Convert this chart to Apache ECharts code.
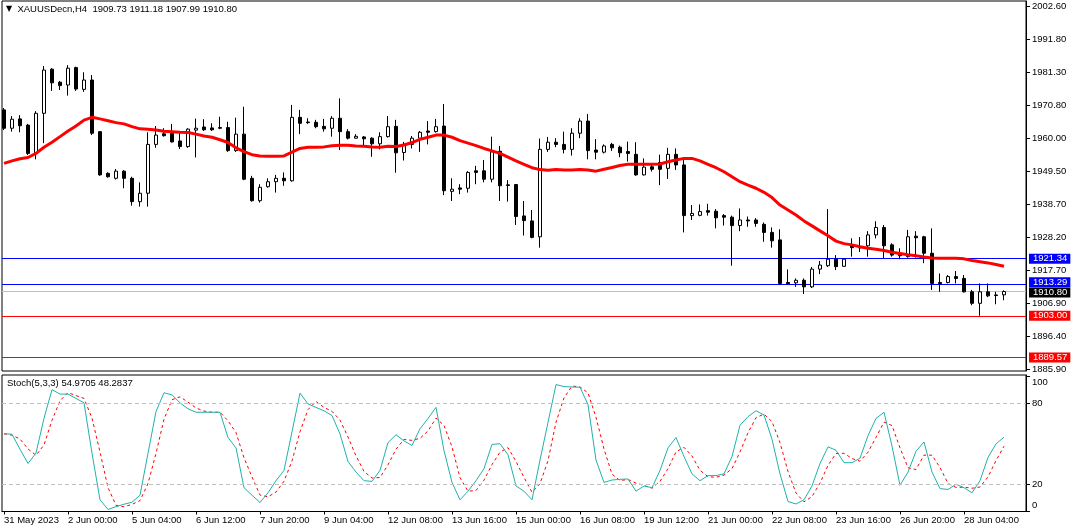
<!DOCTYPE html>
<html>
<head>
<meta charset="utf-8">
<script src="https://cdn.jsdelivr.net/npm/echarts@6/dist/echarts.min.js"></script>
<style>
html,body{margin:0;padding:0;background:#fff;}
#chart{width:1073px;height:528px;}
</style>
</head>
<body>
<div id="chart"></div>
<script>
// ---- data (H4 bars, index 0 = leftmost visible bar) ----
const opens = [1969.2,1963.3,1966.3,1964.3,1955.2,1968.1,1982.3,1978.1,1977.2,1982.8,
1975.8,1978.8,1962.2,1948.8,1947.2,1949.5,1947.2,1939.7,1942.4,1958.1,
1961.5,1961.7,1959.2,1957.4,1962.7,1963.7,1963.4,1963.5,1963.5,1956.1,
1961.4,1947.2,1940.0,1944.5,1946.1,1947.2,1946.4,1966.8,1965.3,1965.2,
1963.9,1963.3,1966.5,1962.2,1960.1,1960.5,1960.1,1958.3,1960.6,1963.9,
1955.5,1958.1,1960.1,1962.4,1962.2,1964.0,1943.0,1944.1,1944.0,1949.6,
1949.6,1946.9,1955.9,1945.1,1945.2,1935.1,1933.5,1928.4,1956.5,1958.8,
1958.1,1956.5,1961.7,1965.6,1956.3,1955.6,1958.1,1957.2,1955.8,1954.9,
1948.3,1950.9,1952.3,1950.4,1954.9,1951.5,1935.2,1935.3,1936.8,1936.6,
1935.2,1934.7,1932.0,1933.8,1933.8,1932.4,1929.8,1927.4,1913.7,1913.6,
1914.4,1912.3,1918.0,1919.1,1921.2,1918.9,1925.5,1925.3,1925.5,1929.0,
1931.4,1925.8,1922.7,1922.0,1928.6,1928.4,1923.1,1913.7,1913.7,1915.6,
1915.0,1910.7,1907.0,1910.7,1909.7,1909.73];
const highs = [1969.8,1967.2,1967.5,1964.7,1968.8,1983.3,1982.6,1978.5,1983.6,1983.1,
1981.3,1980.4,1962.4,1949.1,1950.2,1949.8,1947.7,1945.9,1962.0,1964.0,
1963.3,1964.7,1962.2,1963.3,1966.4,1966.2,1964.9,1967.0,1965.4,1966.7,
1970.2,1948.0,1945.3,1947.2,1948.3,1949.1,1970.8,1969.2,1966.5,1966.0,
1966.3,1967.2,1972.9,1963.0,1961.4,1960.8,1960.4,1962.0,1967.2,1966.0,
1958.9,1960.8,1962.4,1965.6,1966.3,1971.1,1947.2,1945.3,1949.5,1951.2,
1953.1,1960.6,1957.6,1946.6,1945.2,1939.9,1937.0,1960.0,1960.5,1960.1,
1962.2,1963.3,1966.5,1967.9,1959.8,1958.1,1958.6,1957.7,1959.0,1958.8,
1953.6,1952.1,1954.8,1957.0,1956.8,1953.6,1938.6,1938.8,1939.0,1937.3,
1935.7,1935.2,1937.5,1934.9,1934.4,1933.0,1931.4,1930.8,1917.9,1915.0,
1915.0,1918.7,1920.6,1937.3,1922.5,1921.4,1927.9,1928.3,1930.2,1933.4,
1932.2,1926.3,1924.7,1930.6,1930.2,1928.7,1931.1,1916.6,1916.1,1917.4,
1916.1,1911.3,1913.4,1913.4,1910.7,1911.18];
const lows = [1962.7,1962.2,1962.0,1954.7,1953.3,1958.5,1975.3,1975.6,1973.8,1975.3,
1975.0,1961.1,1948.0,1947.4,1946.8,1944.0,1938.4,1938.1,1938.1,1957.0,
1960.6,1958.7,1956.6,1957.0,1953.9,1962.4,1962.4,1963.0,1955.7,1955.7,
1946.6,1939.7,1939.4,1944.2,1942.6,1944.8,1946.1,1961.4,1964.7,1963.3,
1962.2,1960.6,1956.3,1959.7,1959.9,1957.7,1954.1,1956.5,1960.3,1949.0,
1952.9,1956.8,1955.7,1958.1,1961.9,1941.8,1939.9,1942.1,1942.6,1945.3,
1945.9,1945.9,1939.9,1939.7,1932.2,1928.8,1927.9,1924.9,1955.7,1957.2,
1955.2,1954.5,1960.1,1953.3,1953.3,1955.2,1956.0,1954.0,1952.6,1948.0,
1948.1,1949.4,1945.0,1947.0,1949.9,1929.8,1933.8,1935.0,1935.2,1931.1,
1932.0,1919.1,1930.2,1931.6,1931.6,1926.8,1924.9,1912.9,1912.9,1912.3,
1910.0,1911.9,1916.4,1918.7,1917.7,1918.7,1922.0,1923.5,1922.0,1927.9,
1921.5,1922.0,1921.2,1921.7,1921.7,1919.9,1911.3,1910.7,1913.4,1913.4,
1910.5,1906.4,1903.0,1909.0,1906.7,1907.99];
const closes = [1963.3,1966.2,1964.1,1955.2,1968.1,1982.0,1977.9,1977.0,1982.6,1975.9,
1978.8,1961.7,1948.3,1947.7,1949.5,1947.2,1939.7,1942.4,1958.1,1961.1,
1960.9,1958.9,1957.4,1963.0,1963.3,1962.8,1962.8,1963.3,1956.1,1961.4,
1946.9,1940.0,1944.3,1946.1,1947.2,1946.4,1966.8,1964.9,1965.1,1963.8,
1963.1,1966.5,1962.2,1960.1,1960.7,1959.9,1958.3,1960.6,1963.8,1955.4,
1958.1,1960.1,1962.0,1962.0,1963.8,1943.2,1943.7,1943.7,1949.1,1949.1,
1946.9,1955.7,1944.8,1944.9,1934.9,1933.6,1928.2,1956.5,1958.8,1958.1,
1956.5,1961.7,1965.6,1956.1,1955.6,1957.6,1957.0,1955.4,1955.2,1948.3,
1950.8,1950.1,1950.1,1954.9,1951.5,1935.2,1935.9,1936.5,1936.3,1934.5,
1934.7,1932.0,1933.8,1933.5,1932.7,1929.8,1927.1,1913.4,1913.3,1914.4,
1912.3,1918.0,1919.3,1921.2,1918.8,1921.2,1924.9,1924.8,1929.0,1931.4,
1925.5,1922.5,1922.3,1928.4,1928.1,1923.1,1913.4,1913.3,1915.6,1915.0,
1910.7,1907.0,1910.7,1909.4,1909.5,1910.80];
const maValues = [1952.0,1952.8,1953.5,1953.9,1955.2,1957.2,1958.8,1960.6,1962.4,1964.0,
1965.9,1966.8,1966.3,1965.7,1965.1,1964.7,1963.8,1963.1,1963.0,1962.7,
1962.3,1962.2,1962.0,1961.9,1961.4,1960.8,1960.4,1959.6,1958.7,1957.0,
1955.8,1954.8,1954.4,1954.3,1954.3,1954.4,1955.6,1956.8,1957.2,1957.2,
1957.3,1957.7,1957.8,1957.8,1957.6,1957.5,1957.3,1957.2,1957.5,1957.4,
1957.9,1958.7,1959.7,1960.4,1961.1,1961.1,1960.4,1959.3,1958.5,1957.7,
1956.8,1956.0,1955.2,1954.0,1952.8,1951.7,1950.6,1950.0,1949.8,1950.0,
1949.9,1949.9,1950.0,1949.9,1949.5,1950.1,1950.7,1951.3,1951.7,1951.7,
1951.7,1951.7,1951.8,1952.5,1953.1,1953.6,1953.6,1952.8,1951.7,1950.6,
1949.3,1947.7,1946.1,1945.0,1944.0,1942.7,1941.0,1938.6,1937.0,1935.4,
1933.5,1931.9,1930.3,1928.7,1927.0,1926.2,1925.8,1925.2,1924.7,1924.4,
1924.0,1923.4,1923.0,1922.6,1922.3,1921.9,1921.6,1921.5,1921.5,1921.5,
1921.3,1920.8,1920.4,1920.0,1919.5,1918.9];
const stochK = [57.6,57.1,46.0,35.4,43.2,69.0,90.3,87.0,87.0,83.8,
80.5,43.0,8.4,1.2,3.3,5.1,6.6,11.8,43.0,74.0,
88.0,86.4,80.5,76.1,73.5,73.5,73.5,73.5,54.7,47.0,
17.4,11.8,6.4,13.6,22.6,30.3,59.0,87.7,79.7,77.1,
74.6,71.0,57.4,36.8,29.0,22.6,22.1,30.3,50.9,56.8,
52.2,48.8,61.2,68.9,77.1,45.0,21.3,8.4,14.8,22.6,
31.6,49.6,50.1,41.9,18.7,14.8,8.4,38.0,66.0,94.1,
92.6,92.3,92.1,79.2,38.0,21.3,23.1,23.6,23.9,14.8,
18.7,17.4,30.3,47.0,54.7,40.6,27.7,22.6,26.4,26.4,
27.7,40.6,63.8,70.2,74.6,71.5,53.4,27.7,7.1,5.3,
8.4,18.7,35.4,47.8,45.2,36.0,36.0,39.3,56.1,68.9,
73.5,48.3,19.2,29.0,44.5,51.4,29.0,16.7,16.1,20.0,
17.4,13.6,22.6,39.9,50.0,54.97];
const stochD = [57.5,56.5,53.6,46.2,41.5,49.2,67.5,82.1,88.1,85.9,
83.8,69.1,44.0,17.5,4.3,3.2,5.0,7.8,20.5,42.9,
68.3,82.8,85.0,81.0,76.7,74.4,73.5,73.5,67.2,58.4,
39.7,25.4,11.9,10.6,14.2,22.2,37.3,59.0,75.5,81.5,
77.1,74.2,67.7,55.1,41.1,29.5,24.6,25.0,34.4,46.0,
53.3,52.6,54.1,59.6,69.1,63.7,47.8,24.9,14.8,15.3,
23.0,34.6,43.8,47.2,36.9,25.1,14.0,20.4,37.5,66.0,
84.2,93.0,92.3,87.9,69.8,46.2,27.5,22.7,23.5,20.8,
19.1,17.0,22.1,31.6,44.0,47.4,41.0,30.3,25.6,25.1,
26.8,31.6,44.0,58.2,69.5,72.1,66.5,50.9,29.4,13.4,
6.9,10.8,20.8,34.0,42.8,43.0,39.1,37.1,43.8,54.8,
66.2,63.6,47.0,32.2,30.9,41.6,41.6,32.4,20.6,17.6,
17.8,17.0,17.9,25.4,37.5,48.28];
const priceTicks = [2002.60,1991.80,1981.30,1970.80,1960.00,1949.50,1938.70,1928.20,1917.70,1906.90,1896.40,1885.90];
const levelValues = [1921.34,1913.29,1910.80,1903.00,1889.57];
const stochTicks = [100,80,20,0];
const stochLevels = [80,20];
const timeLabels = ['31 May 2023','2 Jun 00:00','5 Jun 04:00','6 Jun 12:00','7 Jun 20:00','9 Jun 04:00','12 Jun 08:00','13 Jun 16:00','15 Jun 00:00','16 Jun 08:00','19 Jun 12:00','21 Jun 00:00','22 Jun 08:00','23 Jun 16:00','26 Jun 20:00','28 Jun 04:00'];
const timeLabelBars = [0,8,16,24,32,40,48,56,64,72,80,88,96,104,112,120];

// ---- styles ----
const FONT = 'Liberation Sans, Arial, sans-serif';
const FS = 9.5;
const levelColors = ['#0000FF','#0000FF','#000000','#FF0000','#FF0000'];
const levelLineColors = ['#0000FF','#0000FF','#C0C0C0','#FF0000','#FF0000'];
const levelLabelShift = [0,-1.5,1,0,0];

const candleData = opens.map((o, i) => [i, o, closes[i], lows[i], highs[i]]);
const maData = maValues.map((v, i) => [i, v]);
const kData = stochK.map((v, i) => [i, v]);
const dData = stochD.map((v, i) => [i, v]);

const chart = echarts.init(document.getElementById('chart'), null, {renderer: 'canvas'});
const option = {
  animation: false,
  backgroundColor: '#ffffff',
  textStyle: {fontFamily: FONT},
  title: [
    {text: '{t|▼}  XAUUSDecn,H4  1909.73 1911.18 1907.99 1910.80', left: 6, top: 4, padding: 0,
     textStyle: {fontSize: FS, fontWeight: 'normal', color: '#000', fontFamily: FONT,
       rich: {t: {fontSize: 8, color: '#000', fontFamily: 'DejaVu Sans'}}}},
    {text: 'Stoch(5,3,3) 54.9705 48.2837', left: 7, top: 378, padding: 0,
     textStyle: {fontSize: FS, fontWeight: 'normal', color: '#000', fontFamily: FONT}}
  ],
  grid: [
    {left: 2, right: 47, top: 1, height: 370, show: true, borderColor: '#000', borderWidth: 1, backgroundColor: 'transparent'},
    {left: 2, right: 47, top: 375, height: 136.5, show: true, borderColor: '#000', borderWidth: 1, backgroundColor: 'transparent'}
  ],
  xAxis: [
    {type: 'value', gridIndex: 0, min: -0.25, max: 127.75,
     axisLine: {show: false, onZero: false}, axisTick: {show: false}, axisLabel: {show: false}, splitLine: {show: false}},
    {type: 'value', gridIndex: 1, min: -0.25, max: 127.75,
     axisLine: {show: true, onZero: false, lineStyle: {color: '#000', width: 1}},
     axisTick: {show: true, customValues: timeLabelBars, length: 3, lineStyle: {color: '#000'}},
     axisLabel: {show: true, customValues: timeLabelBars, align: 'left', margin: 4,
       fontSize: FS, color: '#000', fontFamily: FONT,
       formatter: function (v) { const k = timeLabelBars.indexOf(v); return k >= 0 ? timeLabels[k] : ''; }},
     splitLine: {show: false}}
  ],
  yAxis: [
    {type: 'value', gridIndex: 0, position: 'right', min: 1885.24, max: 2004.21,
     axisLine: {show: true, onZero: false, lineStyle: {color: '#000', width: 1}},
     axisTick: {show: true, customValues: priceTicks, length: 4, lineStyle: {color: '#000'}},
     axisLabel: {show: true, customValues: priceTicks, margin: 6, fontSize: FS, color: '#000', fontFamily: FONT,
       formatter: function (v) { return v.toFixed(2); }},
     splitLine: {show: false}},
    {type: 'value', gridIndex: 1, position: 'right', min: -0.3, max: 101.2,
     axisLine: {show: true, onZero: false, lineStyle: {color: '#000', width: 1}},
     axisTick: {show: true, customValues: stochTicks, length: 4, lineStyle: {color: '#000'}},
     axisLabel: {show: true, customValues: stochTicks, margin: 6, fontSize: FS, color: '#000', fontFamily: FONT,
       formatter: function (v) {
         if (v === 100) return '{a|100}';
         if (v === 0) return '{b|0}';
         return String(v);
       },
       rich: {a: {fontSize: FS, color: '#000', padding: [11, 0, 0, 0]}, b: {fontSize: FS, color: '#000', padding: [0, 0, 11, 0]}}},
     splitLine: {show: false}}
  ],
  series: [
    {
      type: 'candlestick', xAxisIndex: 0, yAxisIndex: 0, barWidth: 4, z: 3,
      itemStyle: {color: '#ffffff', color0: '#000000', borderColor: '#000000', borderColor0: '#000000', borderWidth: 1},
      data: candleData,
      markLine: {
        silent: true, symbol: ['none', 'none'], animation: false, z: 1,
        data: levelValues.map((v, k) => ({
          yAxis: v,
          lineStyle: {color: levelLineColors[k], width: 1, type: 'solid'},
          label: {show: true, position: 'end', distance: 3, formatter: v.toFixed(2),
            color: '#ffffff', backgroundColor: levelColors[k], padding: [0, 3, 0, 4],
            lineHeight: 10, offset: [0, levelLabelShift[k]],
            fontSize: FS, fontFamily: FONT}
        }))
      }
    },
    {
      type: 'line', xAxisIndex: 0, yAxisIndex: 0, data: maData, showSymbol: false, z: 4,
      lineStyle: {color: '#FF0000', width: 3}, silent: true
    },
    {
      type: 'line', xAxisIndex: 1, yAxisIndex: 1, data: kData, showSymbol: false, z: 3,
      lineStyle: {color: '#20B2AA', width: 1}, silent: true,
      markLine: {
        silent: true, symbol: ['none', 'none'], animation: false, label: {show: false},
        data: stochLevels.map(v => ({yAxis: v})),
        lineStyle: {color: '#C0C0C0', width: 1, type: [4, 3]}
      }
    },
    {
      type: 'line', xAxisIndex: 1, yAxisIndex: 1, data: dData, showSymbol: false, z: 2,
      lineStyle: {color: '#FF0000', width: 1, type: [3, 3]}, silent: true
    }
  ]
};
chart.setOption(option);
</script>
</body>
</html>
